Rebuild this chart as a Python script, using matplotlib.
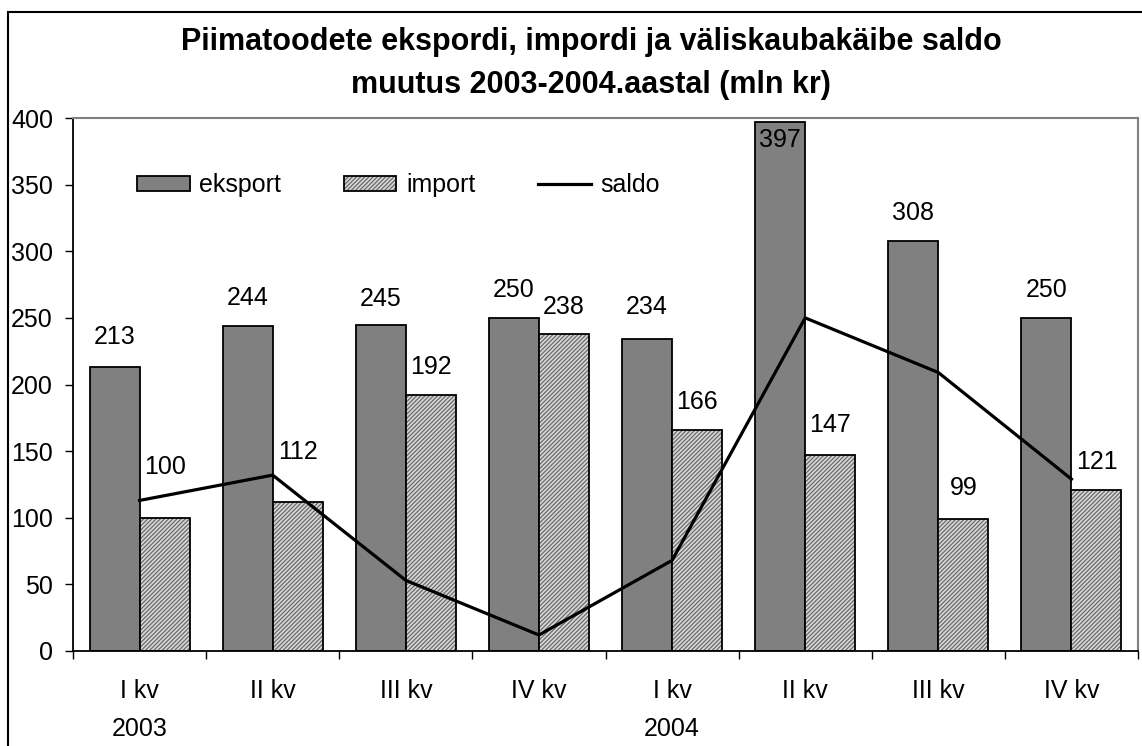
import matplotlib
matplotlib.use("Agg")
import matplotlib.pyplot as plt
from matplotlib.patches import Patch, Rectangle
from matplotlib.lines import Line2D
from matplotlib.legend_handler import HandlerTuple
from matplotlib.transforms import blended_transform_factory

plt.rcParams["font.family"] = ["Liberation Sans", "DejaVu Sans"]
plt.rcParams["hatch.linewidth"] = 0.9

# data (mln kr)
quarters = ["I kv", "II kv", "III kv", "IV kv", "I kv", "II kv", "III kv", "IV kv"]
years = ["2003", "2004"]
year_pos = [0, 4]
eksport = [213, 244, 245, 250, 234, 397, 308, 250]
imp = [100, 112, 192, 238, 166, 147, 99, 121]
saldo = [113, 132, 53, 12, 68, 250, 209, 129]

# label offsets above bar top (pixels, label centre)
eks_off = [30, 28, 26, 28, 32, -18, 28, 28]
imp_off = [51, 50, 28, 27, 28, 30, 31, 28]

FS = 18
PX = 0.72  # points per pixel at dpi 100

fig = plt.figure(figsize=(11.42, 7.46), dpi=100)
ax = fig.add_axes([73 / 1142, 95 / 746, 1065 / 1142, 533 / 746])

x = list(range(len(quarters)))
w = 0.376
xe = [i - w / 2 for i in x]
xi = [i + w / 2 for i in x]

ax.bar(xe, eksport, width=w, color="#808080", edgecolor="black", linewidth=1.3, zorder=2)
ax.bar(xi, imp, width=w, color="#d8d8d8", edgecolor="#6a6a6a", hatch="////////",
       linewidth=0, zorder=2)
ax.bar(xi, imp, width=w, facecolor="none", edgecolor="black", linewidth=1.3, zorder=3)
ax.plot(x, saldo, color="black", linewidth=2.3, zorder=4)

for i in x:
    ax.annotate(str(eksport[i]), (xe[i], eksport[i]), xytext=(0, eks_off[i] * PX),
                textcoords="offset points", ha="center", va="center", fontsize=FS, zorder=5)
    ax.annotate(str(imp[i]), (xi[i], imp[i]), xytext=(0, imp_off[i] * PX),
                textcoords="offset points", ha="center", va="center", fontsize=FS, zorder=5)

ax.set_xlim(-0.5, len(quarters) - 0.5)
ax.set_ylim(0, 400)
ax.set_yticks(range(0, 401, 50))
ax.set_xticks(x)
ax.set_xticklabels(quarters)
ax.set_xticks([i - 0.5 for i in range(len(quarters) + 1)], minor=True)
ax.tick_params(axis="x", which="major", length=0, pad=20, labelsize=FS)
ax.tick_params(axis="x", which="minor", length=5.8, width=1, direction="out")
ax.tick_params(axis="y", length=5.8, width=1, pad=8.6, labelsize=FS)

for s in ["top", "right"]:
    ax.spines[s].set_color("#808080")
    ax.spines[s].set_linewidth(1.5)
for s in ["left", "bottom"]:
    ax.spines[s].set_color("black")
    ax.spines[s].set_linewidth(1.3)

trans = blended_transform_factory(ax.transData, ax.transAxes)
for yr, p in zip(years, year_pos):
    ax.text(p, -78 / 533, yr, transform=trans, ha="center", va="center", fontsize=FS)

h_eks = Patch(facecolor="#808080", edgecolor="black", linewidth=1.3)
h_imp = (Patch(facecolor="#d8d8d8", edgecolor="#6a6a6a", hatch="////////", linewidth=0),
         Patch(facecolor="none", edgecolor="black", linewidth=1.3))
h_sal = Line2D([], [], color="black", linewidth=2.3)
ax.legend([h_eks, h_imp, h_sal], ["eksport", "import", "saldo"],
          handler_map={tuple: HandlerTuple(ndivide=1, pad=0)},
          ncol=3, frameon=False, fontsize=FS, handlelength=2.1, handleheight=0.55,
          handletextpad=0.4, columnspacing=2.5, borderpad=0, borderaxespad=0,
          loc="center left", bbox_to_anchor=(64 / 1065, 0.874))

fig.text(591 / 1142, 1 - 42 / 746, "Piimatoodete ekspordi, impordi ja väliskaubakäibe saldo",
         ha="center", va="center", fontsize=22, fontweight="bold")
fig.text(591 / 1142, 1 - 85 / 746, "muutus 2003-2004.aastal (mln kr)",
         ha="center", va="center", fontsize=22, fontweight="bold")

fig.add_artist(Rectangle((8 / 1142, -0.1), 1.2, 0.1 + 1 - 12 / 746, transform=fig.transFigure,
                         fill=False, edgecolor="black", linewidth=1.5, clip_on=False))

fig.savefig("out.png", dpi=100)
